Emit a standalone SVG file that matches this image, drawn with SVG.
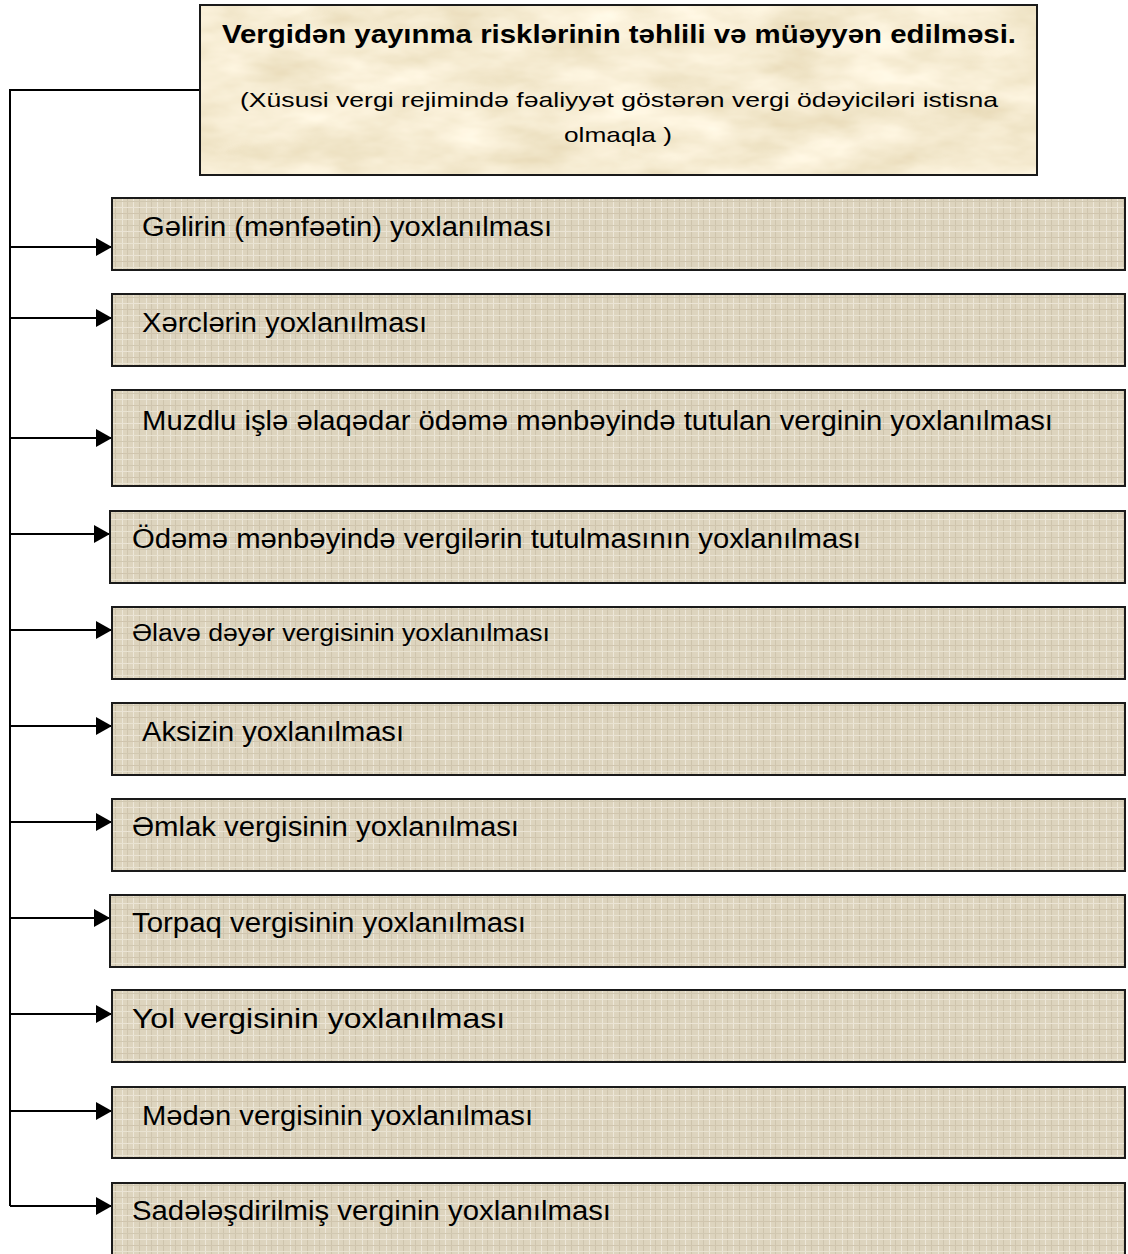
<svg xmlns="http://www.w3.org/2000/svg" width="1128" height="1254" viewBox="0 0 1128 1254">
<defs>
<style>
.box{fill:url(#linen);stroke:#1a1a1a;stroke-width:2}
.lbl{font-family:"Liberation Sans",Arial,sans-serif;font-size:27px;fill:#000}
.sub{font-family:"Liberation Sans",Arial,sans-serif;font-size:21px;fill:#000}
.ttl{font-family:"Liberation Sans",Arial,sans-serif;font-size:26px;font-weight:bold;fill:#000}
.con{fill:none;stroke:#000;stroke-width:2}
</style>
<pattern id="linen" width="24" height="24" patternUnits="userSpaceOnUse">
<rect width="24" height="24" fill="#ddd4be"/>
<g stroke-width="1" opacity="0.75">
<line x1="2.5" y1="0" x2="2.5" y2="24" stroke="#f1ecdf"/>
<line x1="7.5" y1="0" x2="7.5" y2="24" stroke="#cbc0a8"/>
<line x1="13.5" y1="0" x2="13.5" y2="24" stroke="#f3eee2"/>
<line x1="19.5" y1="0" x2="19.5" y2="24" stroke="#cabfa6"/>
<line x1="0" y1="3.5" x2="24" y2="3.5" stroke="#eee8d8"/>
<line x1="0" y1="9.5" x2="24" y2="9.5" stroke="#cec4ac"/>
<line x1="0" y1="15.5" x2="24" y2="15.5" stroke="#f0eadc"/>
<line x1="0" y1="21.5" x2="24" y2="21.5" stroke="#ccc1a8"/>
</g>
</pattern>
<filter id="parch" x="0" y="0" width="1" height="1">
<feTurbulence type="fractalNoise" baseFrequency="0.012 0.03" numOctaves="4" seed="7" result="n"/>
<feColorMatrix in="n" type="matrix" values="0.3 0 0 0 0.77  0.35 0 0 0 0.66  0.45 0 0 0 0.42  0 0 0 0 1" result="c"/>
<feComposite in="c" in2="SourceGraphic" operator="in"/>
</filter>
<marker id="arr" markerUnits="userSpaceOnUse" viewBox="0 0 16 18" markerWidth="16" markerHeight="18" refX="16" refY="9" orient="auto">
<path d="M0,0L16,9L0,18z" fill="#000"/>
</marker>
</defs>
<rect width="1128" height="1254" fill="#fff"/>

<g id="connectors">
<path class="con" d="M200,90H10V1206"/>
<line class="con" x1="10" y1="247" x2="112" y2="247" marker-end="url(#arr)"/>
<line class="con" x1="10" y1="318" x2="112" y2="318" marker-end="url(#arr)"/>
<line class="con" x1="10" y1="438" x2="112" y2="438" marker-end="url(#arr)"/>
<line class="con" x1="10" y1="534" x2="110" y2="534" marker-end="url(#arr)"/>
<line class="con" x1="10" y1="630" x2="112" y2="630" marker-end="url(#arr)"/>
<line class="con" x1="10" y1="726" x2="112" y2="726" marker-end="url(#arr)"/>
<line class="con" x1="10" y1="822" x2="112" y2="822" marker-end="url(#arr)"/>
<line class="con" x1="10" y1="918" x2="110" y2="918" marker-end="url(#arr)"/>
<line class="con" x1="10" y1="1014" x2="112" y2="1014" marker-end="url(#arr)"/>
<line class="con" x1="10" y1="1111" x2="112" y2="1111" marker-end="url(#arr)"/>
<line class="con" x1="10" y1="1206" x2="112" y2="1206" marker-end="url(#arr)"/>
</g>

<g id="root">
<rect x="200" y="5" width="837" height="170" fill="#e8d8b0" filter="url(#parch)"/>
<rect x="200" y="5" width="837" height="170" fill="none" stroke="#1a1a1a" stroke-width="2"/>
<text class="ttl" x="222" y="43" textLength="794" lengthAdjust="spacingAndGlyphs">Vergidən yayınma risklərinin təhlili və müəyyən edilməsi.</text>
<text class="sub" x="240" y="107" textLength="758" lengthAdjust="spacingAndGlyphs">(Xüsusi vergi rejimində fəaliyyət göstərən vergi ödəyiciləri istisna</text>
<text class="sub" x="564" y="142" textLength="108" lengthAdjust="spacingAndGlyphs">olmaqla )</text>
</g>

<g id="n1"><rect class="box" x="112" y="198" width="1013" height="72"/>
<text class="lbl" x="142" y="236" textLength="410" lengthAdjust="spacingAndGlyphs">Gəlirin (mənfəətin) yoxlanılması</text></g>
<g id="n2"><rect class="box" x="112" y="294" width="1013" height="72"/>
<text class="lbl" x="142" y="332" textLength="285" lengthAdjust="spacingAndGlyphs">Xərclərin yoxlanılması</text></g>
<g id="n3"><rect class="box" x="112" y="390" width="1013" height="96"/>
<text class="lbl" x="142" y="430" textLength="911" lengthAdjust="spacingAndGlyphs">Muzdlu işlə əlaqədar ödəmə mənbəyində tutulan verginin yoxlanılması</text></g>
<g id="n4"><rect class="box" x="110" y="511" width="1015" height="72"/>
<text class="lbl" x="132" y="548" textLength="729" lengthAdjust="spacingAndGlyphs">Ödəmə mənbəyində vergilərin tutulmasının yoxlanılması</text></g>
<g id="n5"><rect class="box" x="112" y="607" width="1013" height="72"/>
<text class="lbl" x="132" y="641" style="font-size:23px" textLength="418" lengthAdjust="spacingAndGlyphs">Əlavə dəyər vergisinin yoxlanılması</text></g>
<g id="n6"><rect class="box" x="112" y="703" width="1013" height="72"/>
<text class="lbl" x="142" y="741" textLength="262" lengthAdjust="spacingAndGlyphs">Aksizin yoxlanılması</text></g>
<g id="n7"><rect class="box" x="112" y="799" width="1013" height="72"/>
<text class="lbl" x="132" y="836" textLength="387" lengthAdjust="spacingAndGlyphs">Əmlak vergisinin yoxlanılması</text></g>
<g id="n8"><rect class="box" x="110" y="895" width="1015" height="72"/>
<text class="lbl" x="132" y="932" textLength="394" lengthAdjust="spacingAndGlyphs">Torpaq vergisinin yoxlanılması</text></g>
<g id="n9"><rect class="box" x="112" y="990" width="1013" height="72"/>
<text class="lbl" x="132" y="1028" textLength="373" lengthAdjust="spacingAndGlyphs">Yol vergisinin yoxlanılması</text></g>
<g id="n10"><rect class="box" x="112" y="1087" width="1013" height="71"/>
<text class="lbl" x="142" y="1125" textLength="391" lengthAdjust="spacingAndGlyphs">Mədən vergisinin yoxlanılması</text></g>
<g id="n11"><rect class="box" x="112" y="1183" width="1013" height="74"/>
<text class="lbl" x="132" y="1220" textLength="479" lengthAdjust="spacingAndGlyphs">Sadələşdirilmiş verginin yoxlanılması</text></g>
</svg>
